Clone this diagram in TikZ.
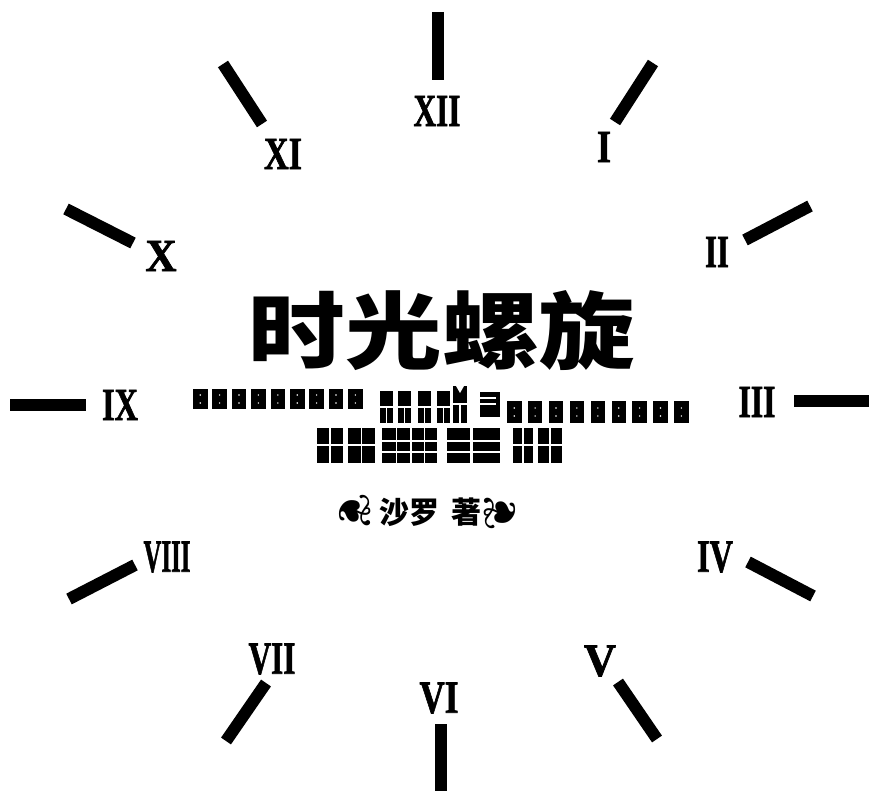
\documentclass[tikz,border=0pt]{standalone}
\usepackage{fontspec}
\setmainfont{Liberation Serif}
\newfontfamily\numfont[FakeBold=1.6]{Liberation Serif Bold}
\newfontfamily\cjk{Noto Sans CJK SC}
\newfontfamily\dejavu{DejaVu Sans}
\begin{document}
\begin{tikzpicture}[x=1pt,y=-1pt,
  tick/.style={line width=12pt,black},
  num/.style={inner sep=0pt,font=\fontsize{46}{46}\selectfont\numfont},
  gap/.style={white,line width=1.1pt},
  blkfill/.style={fill=black},
  orn/.style={inner sep=0pt,font=\dejavu\fontsize{46}{46}\selectfont}]
\useasboundingbox[fill=white] (0,0) rectangle (869,791);
% ticks
\draw[tick] (438,12) -- (438,80);
\draw[tick] (653,63) -- (615,122);
\draw[tick] (745,240) -- (810,206);
\draw[tick] (794,401) -- (869,401);
\draw[tick] (748,562) -- (813,596);
\draw[tick] (618,682) -- (657,739);
\draw[tick] (441,724) -- (441,791);
\draw[tick] (266,683) -- (226,741);
\draw[tick] (135,565) -- (69,599);
\draw[tick] (10,405) -- (86,405);
\draw[tick] (66,209) -- (133,243);
\draw[tick] (223,64) -- (262,124);
% numerals
\node[num] (n12) at (437,111) {\scalebox{0.68}[1]{XII}};
\node[num] (n1) at (604,147) {\scalebox{0.78}[1]{I}};
\node[num] (n2) at (717,252) {\scalebox{0.67}[1]{II}};
\node[num] (n3) at (757,402) {\scalebox{0.69}[1]{III}};
\node[num] (n4) at (715,557) {\scalebox{0.70}[1]{IV}};
\node[num] (n5) at (600,661) {\scalebox{0.97}[1]{V}};
\node[num] (n6) at (439,698) {\scalebox{0.76}[1]{VI}};
\node[num] (n7) at (272,659) {\scalebox{0.68}[1]{VII}};
\node[num] (n8) at (167,557) {\scalebox{0.54}[1]{VIII}};
\node[num] (n9) at (120,405) {\scalebox{0.70}[1]{IX}};
\node[num] (n10) at (161,256) {\scalebox{0.94}[1]{X}};
\node[num] (n11) at (283,154) {\scalebox{0.74}[1]{XI}};
% title
\node[inner sep=0pt] (title) at (442,331) {\cjk\bfseries\fontsize{84}{84}\selectfont\scalebox{1.15}[1]{时光螺旋}};
% garbled row 1
\foreach \i in {0,...,8}{
  \fill[blkfill] (193+\i*19.4,389) rectangle ++(14.5,20);
  \fill[white] (200.2+\i*19.4,395) circle (0.8) (200.2+\i*19.4,403) circle (0.8);
}
\foreach \xa in {380,398,418,437}{
  \fill[blkfill] (\xa,391) rectangle ++(13,32);
  \draw[gap] (\xa,407) -- ++(13,0);
  \draw[gap] (\xa+6.5,407) -- ++(0,16);
}
\fill[blkfill] (453,386) rectangle (467,423);
\draw[gap] (453,404) -- (467,404) (460,404) -- (460,423);
\fill[white] (456,386) -- (460,393) -- (464,386) -- cycle;
\fill[blkfill] (480,392) rectangle (500,417);
\draw[gap] (480,404) -- (496,404) (480,398) -- (496,398);
\foreach \i in {0,...,8}{
  \fill[blkfill] (507+\i*20.9,401) rectangle ++(14.5,22);
  \fill[white] (514.2+\i*20.9,408) circle (0.8) (514.2+\i*20.9,416) circle (0.8);
}
% garbled row 2
\foreach \xa/\xb in {317/343,348/375,513/533,538/562}{
  \fill[blkfill] (\xa,428) rectangle (\xb,463);
  \draw[gap] (\xa,445) -- (\xb,445);
  \draw[gap] ({(\xa+\xb)/2},428) -- ({(\xa+\xb)/2},463);
}
\foreach \xa/\xb in {382/396,397/410,412/424,425/437,447/470,473/500}{
  \fill[blkfill] (\xa,428) rectangle (\xb,463);
  \draw[gap] (\xa,441) -- (\xb,441) (\xa,452) -- (\xb,452);
}
% author line
\node[orn,rotate=-90] (ornl) at (355,512) {❦};
\node[inner sep=0pt] (auth) at (409,512) {\cjk\bfseries\fontsize{30}{30}\selectfont 沙罗};
\node[inner sep=0pt] (zhu) at (466,512) {\cjk\bfseries\fontsize{30}{30}\selectfont 著};
\node[orn,rotate=90] (ornr) at (500,512) {❦};
\end{tikzpicture}
\end{document}
